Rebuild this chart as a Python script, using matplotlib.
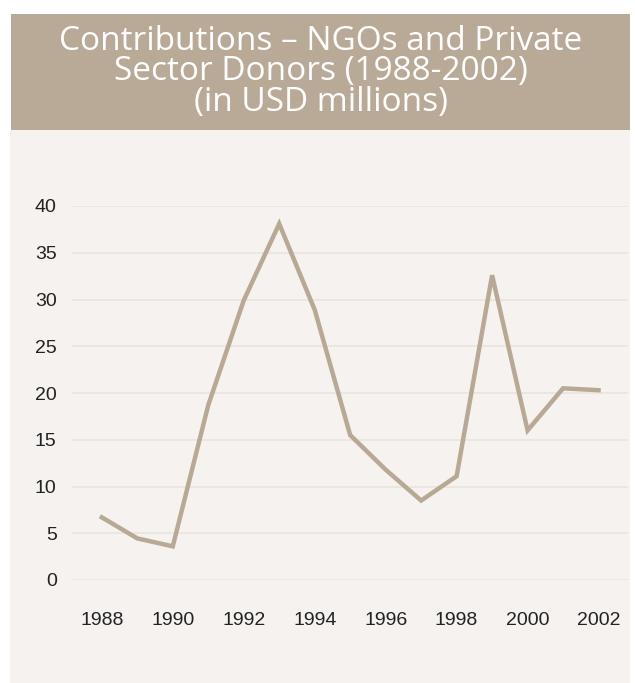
import matplotlib
matplotlib.use('Agg')
import matplotlib.pyplot as plt
from matplotlib.patches import Rectangle

# data (USD millions)
years = [1988, 1989, 1990, 1991, 1992, 1993, 1994, 1995,
         1996, 1997, 1998, 1999, 2000, 2001, 2002]
contributions = [6.7, 4.45, 3.6, 18.7, 29.9, 38.1, 28.9, 15.5,
                 11.8, 8.5, 11.1, 32.6, 16.0, 20.5, 20.3]
xtick_years = [1988, 1990, 1992, 1994, 1996, 1998, 2000, 2002]
ytick_vals = [0, 5, 10, 15, 20, 25, 30, 35, 40]
title_lines = ['Contributions \u2013 NGOs and Private',
               'Sector Donors (1988-2002)',
               '(in USD millions)']

W, H = 635, 683
band_col = '#b9aa97'
bg_col = '#f6f2ef'
line_col = '#b8a994'
grid_col = '#ebe5df'
text_col = '#222222'

plt.rcParams['font.family'] = ['Liberation Sans', 'DejaVu Sans']

fig = plt.figure(figsize=(W / 100, H / 100), dpi=100)
fig.patch.set_facecolor('white')

# header band + body panel (pixel coords -> figure fraction)
def px(x0, y0, x1, y1):
    return (x0 / W, 1 - y1 / H, (x1 - x0) / W, (y1 - y0) / H)

bx, by, bw, bh = px(10, 130, 630, 683)
fig.patches.append(Rectangle((bx, by), bw, bh, transform=fig.transFigure,
                             facecolor=bg_col, edgecolor='none', zorder=-2))
bx, by, bw, bh = px(11, 14, 630, 130)
fig.patches.append(Rectangle((bx, by), bw, bh, transform=fig.transFigure,
                             facecolor=band_col, edgecolor='none', zorder=-2))
# title, one line at a time so the spacing can be set in pixels
for i, t in enumerate(title_lines):
    fig.text(321 / W, 1 - (41 + 30.5 * i) / H, t, ha='center', va='center',
             color='white', fontsize=24,
             family=['Open Sans', 'DejaVu Sans'])

# axes
ax = fig.add_axes(px(72, 206, 628, 580))
ax.set_zorder(1)
ax.set_facecolor('none')
ax.plot(years, contributions, color=line_col, linewidth=3.2,
        solid_joinstyle='miter', clip_on=False, zorder=3)
ax.set_xlim(1987.16, 2002.83)
ax.set_ylim(0, 40)
ax.set_xticks(xtick_years)
ax.set_yticks(ytick_vals)
ax.grid(axis='y', color=grid_col, linewidth=1.3)
ax.set_axisbelow(True)
for s in ax.spines.values():
    s.set_visible(False)
ax.tick_params(axis='both', length=0, labelsize=14, colors=text_col)
ax.tick_params(axis='x', pad=23)
ax.tick_params(axis='y', pad=11)

fig.savefig('out.png', dpi=100, facecolor=fig.get_facecolor())
